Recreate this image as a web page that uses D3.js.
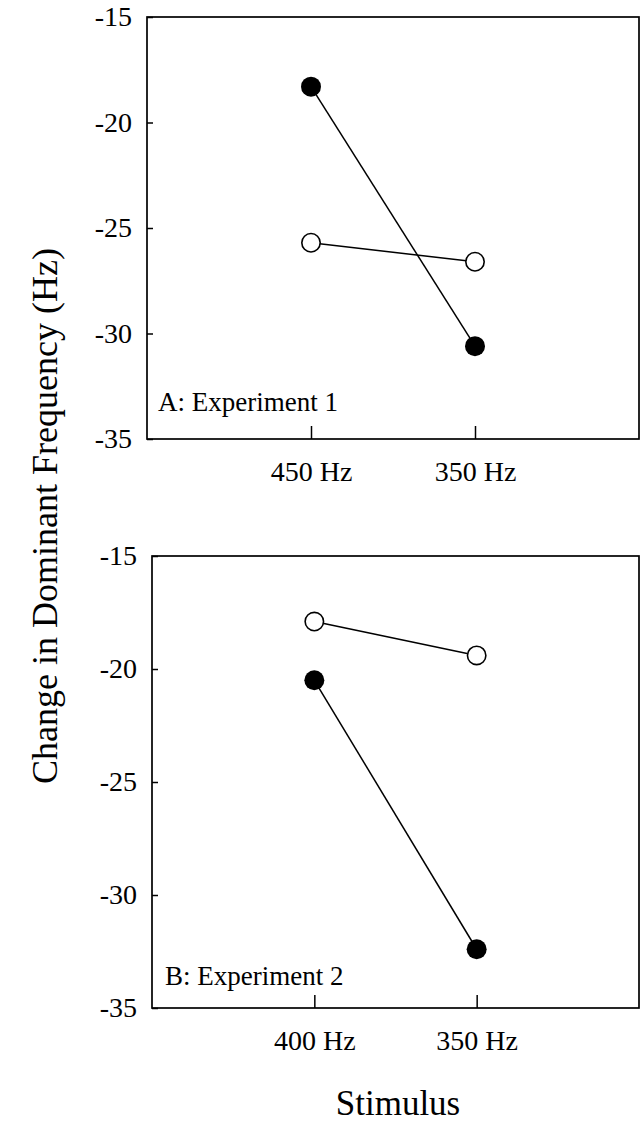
<!DOCTYPE html>
<html>
<head>
<meta charset="utf-8">
<script src="https://cdn.jsdelivr.net/npm/d3@7"></script>
<style>
  body { margin: 0; background: #fff; }
  svg { display: block; }
  text { font-family: "Liberation Serif", "Times New Roman", serif; fill: #000; }
</style>
</head>
<body>
<div id="chart"></div>
<script>
// data
var yTicks = [-15, -20, -25, -30, -35];

var stimA = ["450 Hz", "350 Hz"];
var filledA = [-18.3, -30.6];
var openA = [-25.7, -26.6];

var stimB = ["400 Hz", "350 Hz"];
var filledB = [-20.5, -32.4];
var openB = [-17.9, -19.4];

var svgWidth = 642;
var svgHeight = 1124;

var svg = d3.select("#chart")
  .append("svg")
  .attr("width", svgWidth)
  .attr("height", svgHeight);

// one panel = one framed box with its own scales
function drawPanel(box, stim, filled, open, label) {
  var width = box.right - box.left;
  var height = box.bottom - box.top;

  var g = svg.append("g")
    .attr("transform", `translate(${box.left}, ${box.top})`);

  var x = d3.scalePoint()
    .domain(stim)
    .range([0, width])
    .padding(1);

  var y = d3.scaleLinear()
    .domain([-35, -15])
    .range([height, 0]);

  var leftAxis = d3.axisLeft(y)
    .tickValues(yTicks)
    .tickFormat(d => String(d))
    .tickSizeInner(-6)
    .tickSizeOuter(0)
    .tickPadding(15);

  var bottomAxis = d3.axisBottom(x)
    .tickSizeInner(-13)
    .tickSizeOuter(0)
    .tickPadding(22);

  var yAxis = g.append("g").call(leftAxis);
  var xAxis = g.append("g")
    .attr("transform", `translate(0, ${height})`)
    .call(bottomAxis);

  [yAxis, xAxis].forEach(function(a) {
    a.select(".domain").remove();
    a.selectAll("line").attr("stroke", "#000").attr("stroke-width", 1.5);
    a.selectAll("text")
      .attr("font-family", "Liberation Serif")
      .attr("font-size", "28px")
      .attr("fill", "#000");
  });

  // frame
  g.append("rect")
    .attr("x", 0)
    .attr("y", 0)
    .attr("width", width)
    .attr("height", height)
    .attr("fill", "none")
    .attr("stroke", "#000")
    .attr("stroke-width", 1.7);

  var line = d3.line()
    .x((d, i) => x(stim[i]))
    .y(d => y(d));

  g.append("path")
    .datum(open)
    .attr("d", line)
    .attr("fill", "none")
    .attr("stroke", "#000")
    .attr("stroke-width", 1.5);

  g.append("path")
    .datum(filled)
    .attr("d", line)
    .attr("fill", "none")
    .attr("stroke", "#000")
    .attr("stroke-width", 1.5);

  g.selectAll(".open")
    .data(open)
    .enter()
    .append("circle")
    .attr("class", "open")
    .attr("cx", (d, i) => x(stim[i]))
    .attr("cy", d => y(d))
    .attr("r", 9.2)
    .attr("fill", "#fff")
    .attr("stroke", "#000")
    .attr("stroke-width", 1.6);

  g.selectAll(".filled")
    .data(filled)
    .enter()
    .append("circle")
    .attr("class", "filled")
    .attr("cx", (d, i) => x(stim[i]))
    .attr("cy", d => y(d))
    .attr("r", 10)
    .attr("fill", "#000");

  g.append("text")
    .attr("x", box.labelX)
    .attr("y", height - box.labelDy)
    .attr("font-size", "27px")
    .text(label);
}

drawPanel({ left: 147, top: 17, right: 639, bottom: 439, labelX: 11, labelDy: 28 },
  stimA, filledA, openA, "A: Experiment 1");

drawPanel({ left: 152, top: 556, right: 639, bottom: 1008, labelX: 13, labelDy: 23 },
  stimB, filledB, openB, "B: Experiment 2");

// axis titles
svg.append("text")
  .attr("transform", "translate(57, 516) rotate(-90)")
  .attr("text-anchor", "middle")
  .attr("font-size", "36px")
  .text("Change in Dominant Frequency (Hz)");

svg.append("text")
  .attr("x", 398)
  .attr("y", 1115)
  .attr("text-anchor", "middle")
  .attr("font-size", "35px")
  .text("Stimulus");
</script>
</body>
</html>
